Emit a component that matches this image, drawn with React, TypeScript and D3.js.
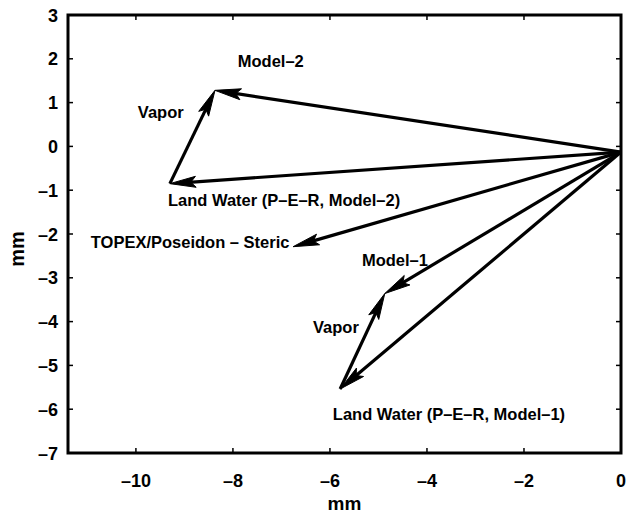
import React from "react";
import * as d3 from "d3";

// vector end points (mm), all pieces start at the common origin or chain together
const origin: [number, number] = [0, -0.13];
const model2Tip: [number, number] = [-8.37, 1.28];
const landWater2Tip: [number, number] = [-9.3, -0.85];
const topexTip: [number, number] = [-6.76, -2.29];
const model1Tip: [number, number] = [-4.87, -3.36];
const landWater1Tip: [number, number] = [-5.79, -5.54];

const xTicks = [-10, -8, -6, -4, -2, 0];
const yTicks = [-7, -6, -5, -4, -3, -2, -1, 0, 1, 2, 3];

// arrows: [from, to]
const arrows: [number, number][][] = [
  [origin, model2Tip],
  [origin, landWater2Tip],
  [landWater2Tip, model2Tip],
  [origin, topexTip],
  [origin, model1Tip],
  [origin, landWater1Tip],
  [landWater1Tip, model1Tip],
];

// labels anchored to data coordinates (start of text, baseline)
const labels: { text: string; x: number; y: number }[] = [
  { text: "Model\u20132", x: -7.9, y: 1.81 },
  { text: "Vapor", x: -9.96, y: 0.65 },
  { text: "Land Water (P\u2013E\u2013R, Model\u20132)", x: -9.34, y: -1.36 },
  { text: "TOPEX/Poseidon \u2013 Steric", x: -10.93, y: -2.32 },
  { text: "Model\u20131", x: -5.34, y: -2.73 },
  { text: "Vapor", x: -6.35, y: -4.26 },
  { text: "Land Water (P\u2013E\u2013R, Model\u20131)", x: -5.94, y: -6.25 },
];

const W = 626;
const H = 515;
const left = 68;
const right = 621;
const top = 15;
const bottom = 453;

const x = d3.scaleLinear().domain([-11.4, 0]).range([left, right]);
const y = d3.scaleLinear().domain([-7, 3]).range([bottom, top]);

const font = "'Liberation Sans', Arial, Helvetica, sans-serif";

function arrowHead(from: [number, number], to: [number, number]) {
  const x1 = x(from[0]), y1 = y(from[1]);
  const x2 = x(to[0]), y2 = y(to[1]);
  const a = Math.atan2(y2 - y1, x2 - x1);
  const len = 26, hw = 5.5;
  const bx = x2 - len * Math.cos(a), by = y2 - len * Math.sin(a);
  const px = -Math.sin(a) * hw, py = Math.cos(a) * hw;
  const nx = x2 - (len - 5) * Math.cos(a), ny = y2 - (len - 5) * Math.sin(a);
  return `M${x2},${y2}L${bx + px},${by + py}L${nx},${ny}L${bx - px},${by - py}Z`;
}

const fmt = (t: number) => (t < 0 ? "\u2013" + Math.abs(t) : String(t));

const App = () => {
  const tickLen = 5;
  return (
    <svg width={W} height={H} style={{ position: "absolute", left: 0, top: 0 }}>
      <rect width={W} height={H} fill="#fff" />
      {/* arrows */}
      {arrows.map((seg, i) => {
        const [a, b] = seg;
        const ang = Math.atan2(y(b[1]) - y(a[1]), x(b[0]) - x(a[0]));
        return (
          <g key={i}>
            <line
              x1={x(a[0])}
              y1={y(a[1])}
              x2={x(b[0]) - 12 * Math.cos(ang)}
              y2={y(b[1]) - 12 * Math.sin(ang)}
              stroke="#000"
              strokeWidth={3.2}
            />
            <path d={arrowHead(a, b)} fill="#000" stroke="#000" strokeWidth={1} />
          </g>
        );
      })}
      {labels.map((l, i) => (
        <text key={i} x={x(l.x)} y={y(l.y)} fontFamily={font} fontWeight="bold" fontSize={16.5} fill="#000">
          {l.text}
        </text>
      ))}
      {/* frame */}
      <rect x={left} y={top} width={right - left} height={bottom - top} fill="none" stroke="#000" strokeWidth={3} />
      {xTicks.map((t) => (
        <g key={"x" + t}>
          <line x1={x(t)} x2={x(t)} y1={bottom} y2={bottom - tickLen} stroke="#000" strokeWidth={1.5} />
          <line x1={x(t)} x2={x(t)} y1={top} y2={top + tickLen} stroke="#000" strokeWidth={1.5} />
          <text x={x(t)} y={bottom + 34} textAnchor="middle" fontFamily={font} fontWeight="bold" fontSize={18}>
            {fmt(t)}
          </text>
        </g>
      ))}
      {yTicks.map((t) => (
        <g key={"y" + t}>
          <line x1={left} x2={left + tickLen} y1={y(t)} y2={y(t)} stroke="#000" strokeWidth={1.5} />
          <line x1={right} x2={right - tickLen} y1={y(t)} y2={y(t)} stroke="#000" strokeWidth={1.5} />
          <text x={left - 10} y={y(t) + 6.5} textAnchor="end" fontFamily={font} fontWeight="bold" fontSize={18}>
            {fmt(t)}
          </text>
        </g>
      ))}
      <text x={(left + right) / 2} y={510} textAnchor="middle" fontFamily={font} fontWeight="bold" fontSize={19}>
        mm
      </text>
      <text
        transform={`translate(24,${(top + bottom) / 2 + 15}) rotate(-90)`}
        textAnchor="middle"
        fontFamily={font}
        fontWeight="bold"
        fontSize={20}
      >
        mm
      </text>
    </svg>
  );
};

export default App;
